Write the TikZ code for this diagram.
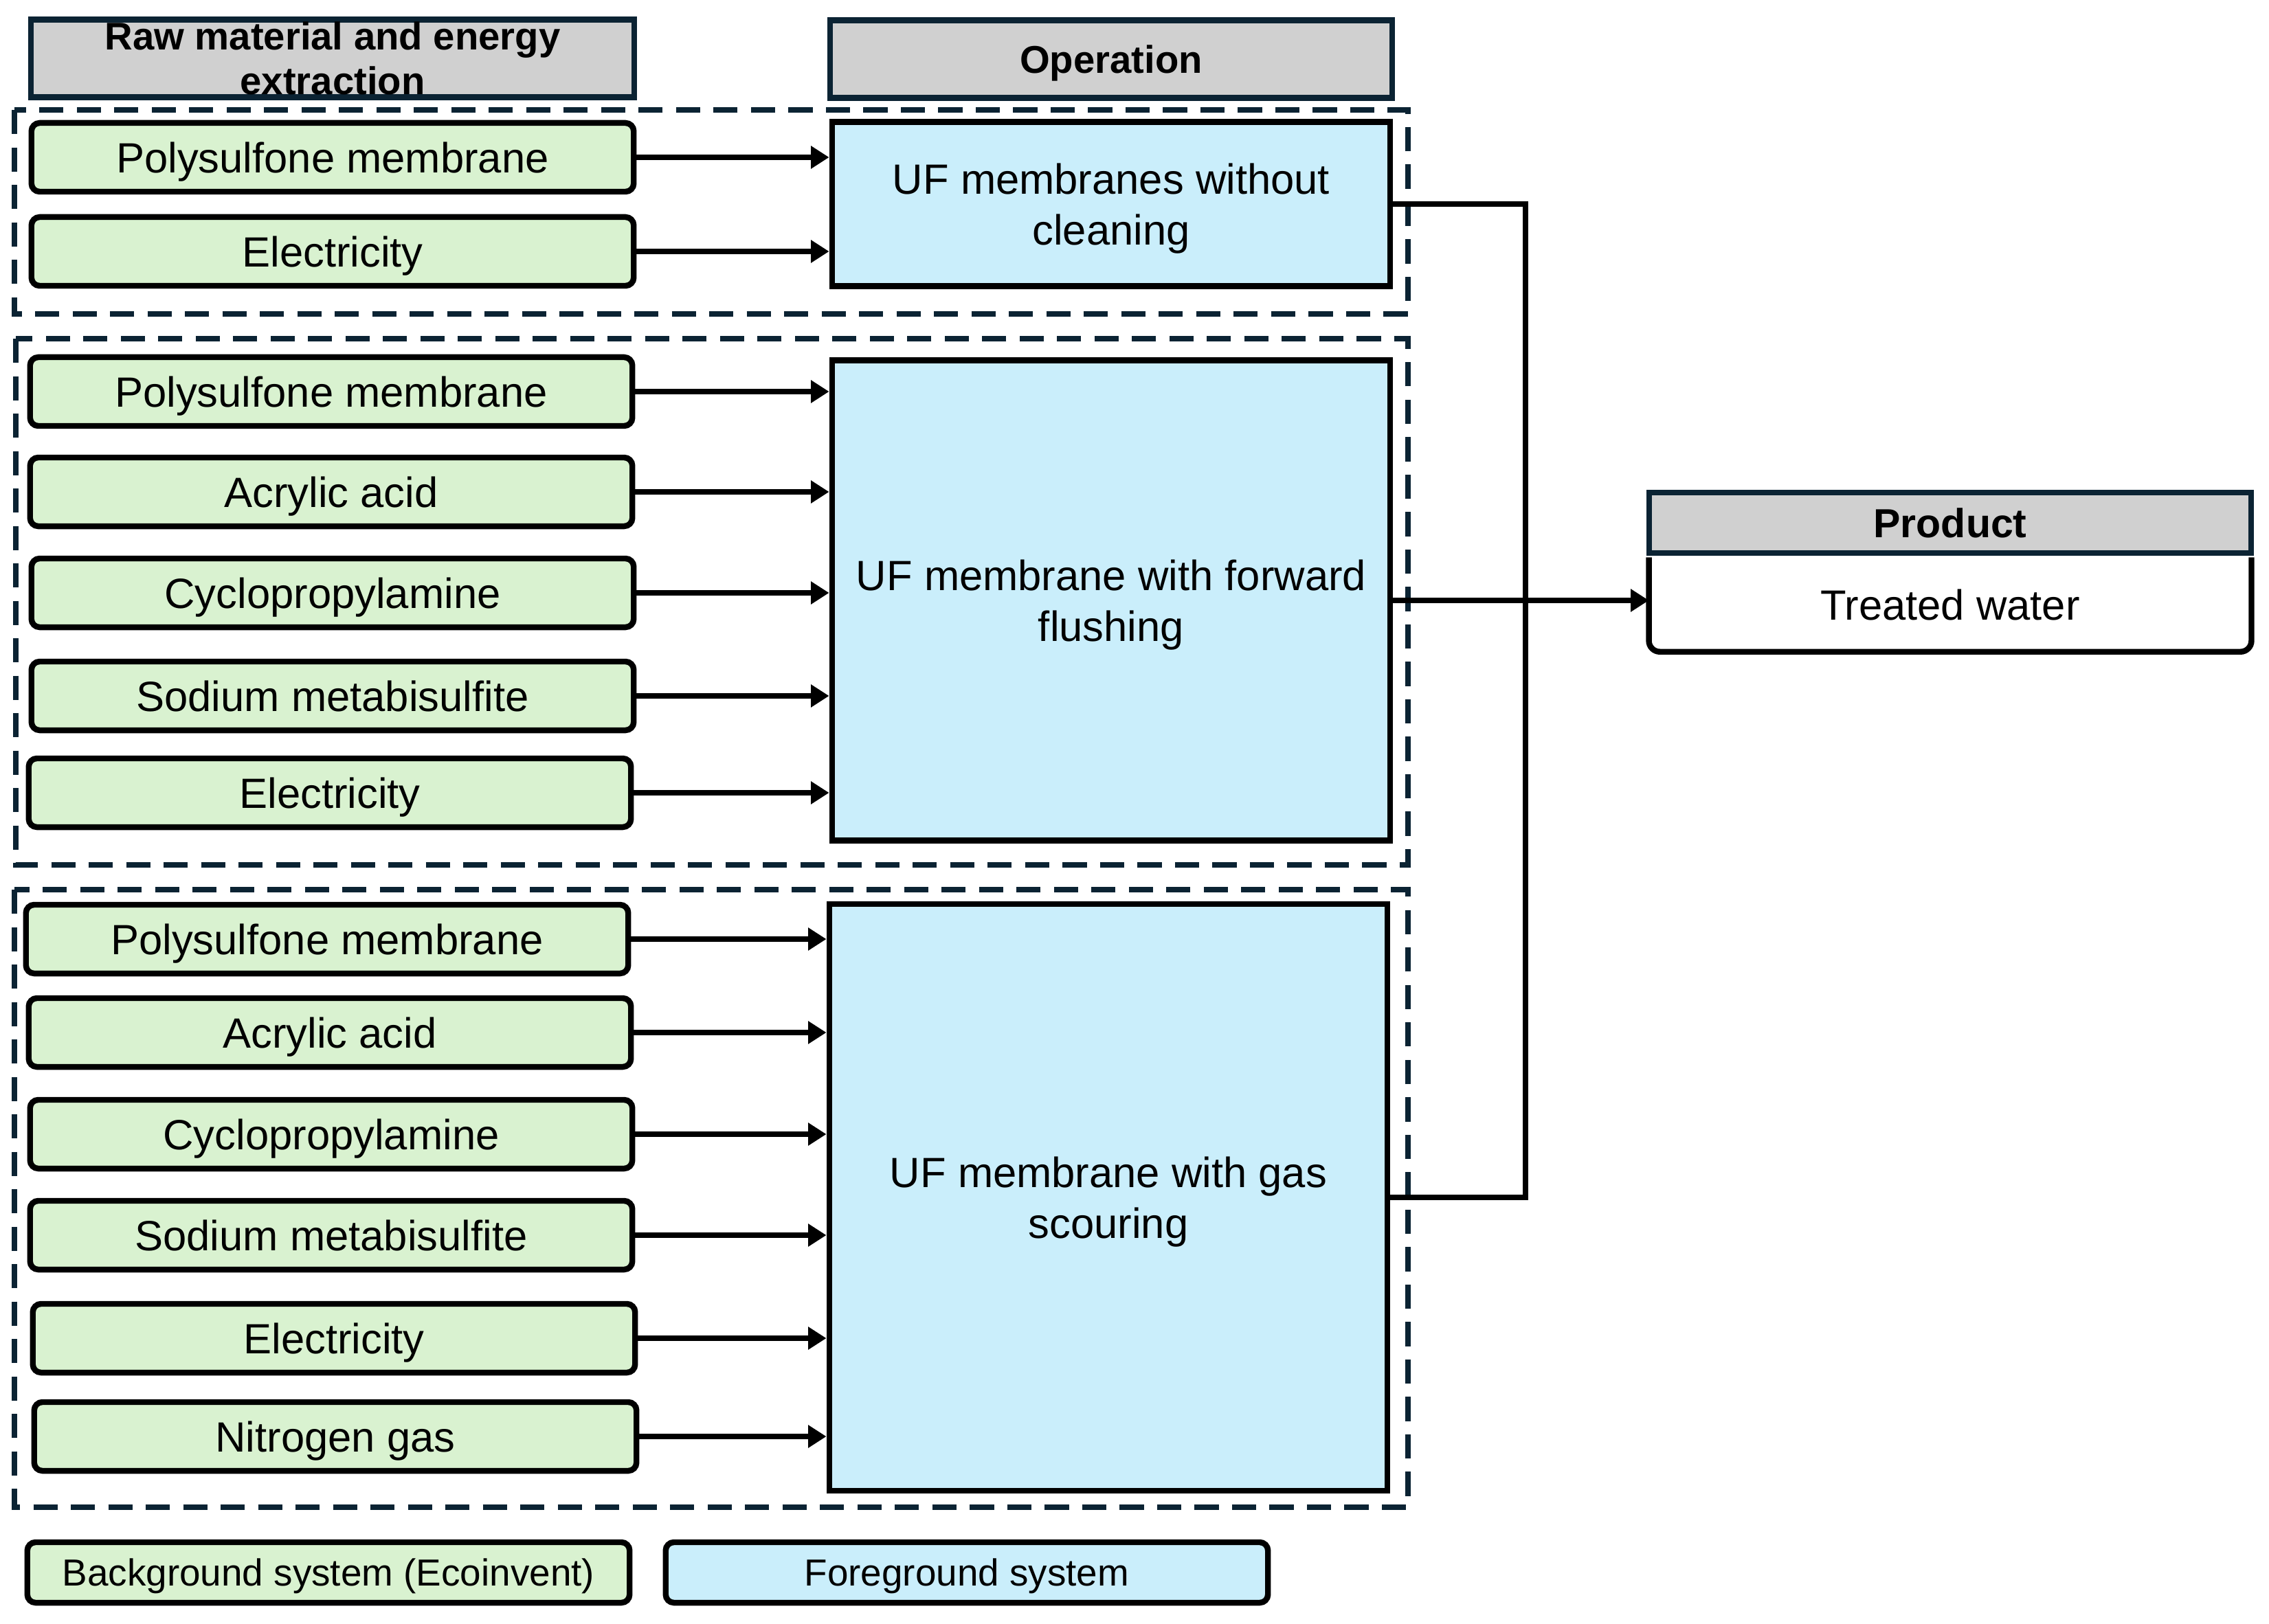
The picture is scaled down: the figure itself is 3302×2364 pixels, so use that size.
\documentclass[tikz,border=0pt]{standalone}
\usepackage{fontspec}
\setmainfont{Liberation Sans}
\usepackage{tikz}
\usetikzlibrary{arrows.meta,positioning}
\definecolor{bggreen}{HTML}{D9F2D0}
\definecolor{fgblue}{HTML}{CAEEFB}
\definecolor{hdrgray}{HTML}{D0D0D0}
\definecolor{navy}{HTML}{0B2333}

\begin{document}
\begin{tikzpicture}[x=0.01cm,y=-0.01cm,
  font=\fontsize{17.5}{21}\selectfont,
  hdr/.style={draw=navy,line width=2.4pt,fill=hdrgray,align=center,inner sep=0pt,text depth=0pt,font=\fontsize{16}{18.5}\selectfont\bfseries},
  inp/.style={draw,line width=2.4pt,rounded corners=0.12cm,fill=bggreen,minimum width=8.76cm,minimum height=1.0cm,inner sep=0pt,text depth=0pt},
  unit/.style={draw,line width=2.4pt,fill=fgblue,minimum width=8.12cm,align=center,inner sep=0pt,text depth=0pt},
  grp/.style={draw=navy,line width=2.2pt,dash pattern=on 10pt off 5.5pt},
  key/.style={draw,line width=2.4pt,rounded corners=0.12cm,fill=#1,minimum width=8.76cm,minimum height=0.88cm,inner sep=0pt,text depth=0pt,font=\fontsize{15.6}{18}\selectfont},
  arr/.style={-{Triangle[length=7.5pt,width=9pt]},line width=2.1pt},
  link/.style={line width=2.1pt}]
\useasboundingbox (0,0) rectangle (3302,2364);
\node[hdr,minimum width=8.78cm,minimum height=1.13cm] (hraw) at (484,85) {Raw material and energy\\extraction};
\node[hdr,minimum width=8.18cm,minimum height=1.13cm] (hop) at (1617,86) {Operation};
\draw[grp] (21,160) rectangle (2049,457);
\draw[grp] (23,493) rectangle (2049,1259);
\draw[grp] (21,1295) rectangle (2049,2194);
\node[inp] (ps1) at (484,229) {Polysulfone membrane};
\node[inp] (el1) at (484,366) {Electricity};
\node[inp] (ps2) at (482,570) {Polysulfone membrane};
\node[inp] (aa2) at (482,716) {Acrylic acid};
\node[inp] (cp2) at (484,863) {Cyclopropylamine};
\node[inp] (sm2) at (484,1013) {Sodium metabisulfite};
\node[inp] (el2) at (480,1154) {Electricity};
\node[inp] (ps3) at (476,1367) {Polysulfone membrane};
\node[inp] (aa3) at (480,1503) {Acrylic acid};
\node[inp] (cp3) at (482,1651) {Cyclopropylamine};
\node[inp] (sm3) at (482,1798) {Sodium metabisulfite};
\node[inp] (el3) at (486,1948) {Electricity};
\node[inp] (ng3) at (488,2091) {Nitrogen gas};
\node[unit,minimum height=2.39cm] (uf1) at (1617,297) {UF membranes without\\cleaning};
\node[unit,minimum height=6.99cm] (uf2) at (1617,874) {UF membrane with forward\\flushing};
\node[unit,minimum height=8.53cm] (uf3) at (1613,1743) {UF membrane with gas\\scouring};
\node[minimum width=8.75cm,minimum height=1.36cm,inner sep=0pt,text depth=0pt] (water) at (2838,880) {Treated water};
\draw[line width=2.4pt,rounded corners=0.16cm] (water.north west) -- (water.south west) -- (water.south east) -- (water.north east);
\node[hdr,minimum width=8.75cm,minimum height=0.88cm,font=\fontsize{16.8}{18.5}\selectfont\bfseries] (prod) at (2838,761) {Product};
\draw[arr] (ps1.east) -- (ps1.east -| uf1.west);
\draw[arr] (el1.east) -- (el1.east -| uf1.west);
\draw[arr] (ps2.east) -- (ps2.east -| uf2.west);
\draw[arr] (aa2.east) -- (aa2.east -| uf2.west);
\draw[arr] (cp2.east) -- (cp2.east -| uf2.west);
\draw[arr] (sm2.east) -- (sm2.east -| uf2.west);
\draw[arr] (el2.east) -- (el2.east -| uf2.west);
\draw[arr] (ps3.east) -- (ps3.east -| uf3.west);
\draw[arr] (aa3.east) -- (aa3.east -| uf3.west);
\draw[arr] (cp3.east) -- (cp3.east -| uf3.west);
\draw[arr] (sm3.east) -- (sm3.east -| uf3.west);
\draw[arr] (el3.east) -- (el3.east -| uf3.west);
\draw[arr] (ng3.east) -- (ng3.east -| uf3.west);
\coordinate (bus) at (2220,874);
\draw[link] (uf1.east) -| (bus) |- (uf3.east);
\draw[arr] (uf2.east) -- (uf2.east -| water.west);
\node[key=bggreen] (kbg) at (478,2289) {Background system (Ecoinvent)};
\node[key=fgblue,right=0.44cm of kbg] (kfg) {Foreground system};
\end{tikzpicture}
\end{document}
